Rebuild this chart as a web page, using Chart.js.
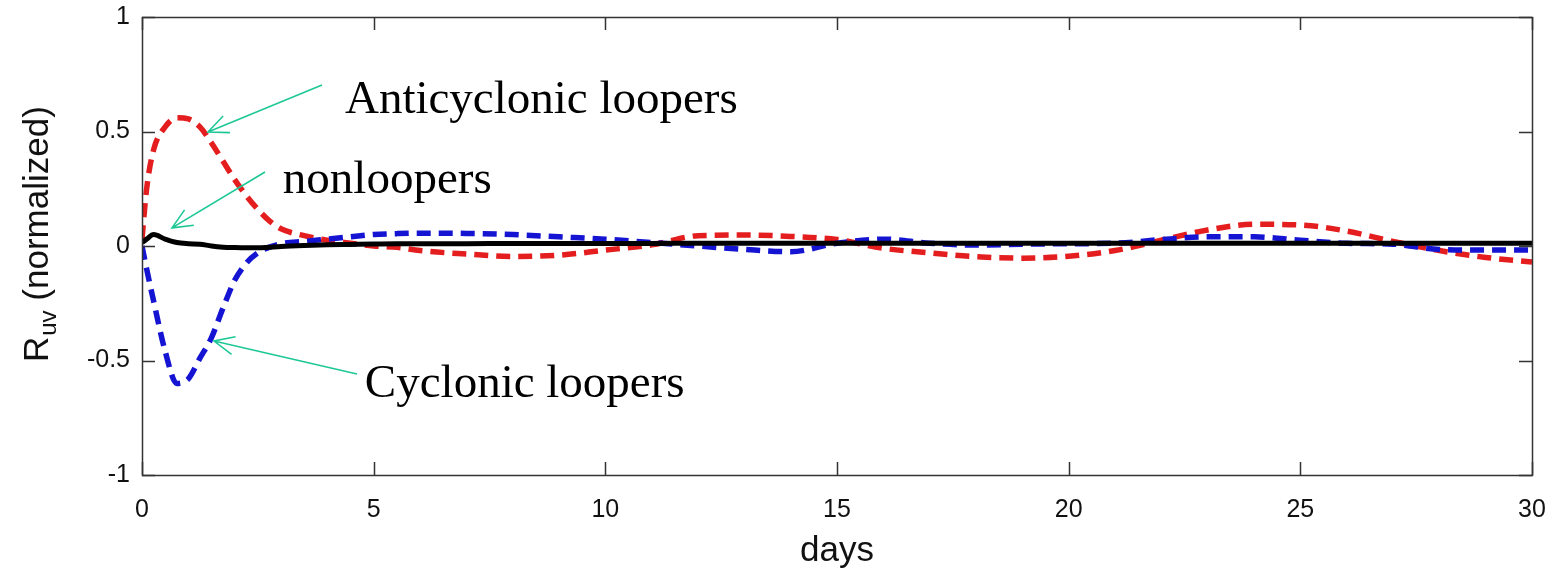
<!DOCTYPE html>
<html>
<head>
<meta charset="utf-8">
<script src="https://cdn.jsdelivr.net/npm/chart.js@4.4.1/dist/chart.umd.min.js"></script>
<style>
  html, body { margin: 0; padding: 0; background: #ffffff; }
  canvas { display: block; }
</style>
</head>
<body>
<canvas id="c" width="1554" height="574"></canvas>
<script>
// ---- data ----
const days = [0, 0.1, 0.25, 0.5, 0.75, 1, 1.25, 1.5, 1.75, 2, 2.25, 2.5, 2.75, 3, 3.5, 4, 4.5, 5, 5.5, 6, 7, 8, 9, 10, 11, 12, 13, 14, 15, 16, 17, 18, 19, 20, 21, 22, 23, 24, 25, 26, 27, 28, 29, 30];
const anticyclonic = [0.03, 0.25, 0.42, 0.52, 0.56, 0.555, 0.52, 0.45, 0.37, 0.29, 0.22, 0.16, 0.11, 0.075, 0.045, 0.025, 0.012, 0.0, -0.006, -0.02, -0.035, -0.046, -0.04, -0.018, 0.005, 0.045, 0.048, 0.042, 0.028, -0.01, -0.03, -0.047, -0.053, -0.045, -0.02, 0.025, 0.07, 0.095, 0.092, 0.065, 0.02, -0.02, -0.05, -0.07];
const cyclonic = [0.0, -0.1, -0.24, -0.46, -0.6, -0.58, -0.49, -0.4, -0.27, -0.15, -0.075, -0.03, -0.005, 0.01, 0.02, 0.03, 0.04, 0.05, 0.054, 0.056, 0.055, 0.05, 0.04, 0.03, 0.015, 0.0, -0.015, -0.025, 0.012, 0.03, 0.012, 0.004, 0.008, 0.01, 0.012, 0.028, 0.04, 0.04, 0.025, 0.012, 0.008, -0.015, -0.018, -0.018];
const nonloopers = [0.015, 0.03, 0.05, 0.03, 0.015, 0.01, 0.008, 0.0, -0.005, -0.007, -0.008, -0.008, -0.005, -0.002, 0.002, 0.005, 0.007, 0.009, 0.01, 0.01, 0.01, 0.011, 0.011, 0.011, 0.011, 0.012, 0.012, 0.012, 0.012, 0.012, 0.012, 0.012, 0.012, 0.012, 0.012, 0.012, 0.012, 0.012, 0.012, 0.012, 0.012, 0.012, 0.012, 0.012];
const xTicks = [0, 5, 10, 15, 20, 25, 30];
const xTickLabels = ['0', '5', '10', '15', '20', '25', '30'];
const yTicks = [-1, -0.5, 0, 0.5, 1];
const yTickLabels = ['-1', '-0.5', '0', '0.5', '1'];
const xTitle = 'days';
const yTitleMain = 'R';
const yTitleSub = 'uv';
const yTitleRest = ' (normalized)';

// annotation texts and arrows (in data units: days, value)
const annotationTexts = [
  { text: 'Anticyclonic loopers', x: 4.38, y: 0.581 },
  { text: 'nonloopers', x: 3.04, y: 0.231 },
  { text: 'Cyclonic loopers', x: 4.81, y: -0.659 }
];
const annotationArrows = [
  { from: [3.885, 0.703], to: [1.424, 0.498] },
  { from: [2.655, 0.323], to: [0.647, 0.079] },
  { from: [4.64, -0.559], to: [1.554, -0.415] }
];

const pts = arr => days.map((d, i) => ({ x: d, y: arr[i] }));

const axisPlugin = {
  id: 'matlabAxes',
  afterDatasetsDraw(chart) {
    const { ctx, chartArea: a, scales: { x, y } } = chart;
    ctx.save();
    ctx.strokeStyle = '#333333';
    ctx.lineWidth = 1.5;
    const tl = 13;
    ctx.beginPath();
    xTicks.forEach(v => {
      const px = Math.round(x.getPixelForValue(v)) + 0.5;
      ctx.moveTo(px, a.bottom); ctx.lineTo(px, a.bottom - tl);
      ctx.moveTo(px, a.top); ctx.lineTo(px, a.top + tl);
    });
    yTicks.forEach(v => {
      const py = Math.round(y.getPixelForValue(v)) + 0.5;
      ctx.moveTo(a.left, py); ctx.lineTo(a.left + tl, py);
      ctx.moveTo(a.right, py); ctx.lineTo(a.right - tl, py);
    });
    ctx.stroke();
    ctx.strokeRect(Math.round(a.left) + 0.5, Math.round(a.top) + 0.5, Math.round(a.right - a.left), Math.round(a.bottom - a.top));
    ctx.restore();
  },
  afterDraw(chart) {
    const { ctx, scales: { x, y } } = chart;
    ctx.save();
    // y-axis title with subscript
    ctx.translate(48, 362);
    ctx.rotate(-Math.PI / 2);
    ctx.fillStyle = '#111111';
    ctx.textBaseline = 'alphabetic';
    ctx.textAlign = 'left';
    ctx.font = '35px "Liberation Sans", Arial, sans-serif';
    ctx.fillText(yTitleMain, 0, 0);
    let w = ctx.measureText(yTitleMain).width;
    ctx.font = '24px "Liberation Sans", Arial, sans-serif';
    ctx.fillText(yTitleSub, w + 1, 8);
    w += ctx.measureText(yTitleSub).width + 1;
    ctx.font = '35px "Liberation Sans", Arial, sans-serif';
    ctx.fillText(yTitleRest, w, 0);
    ctx.restore();

    // annotations
    ctx.save();
    ctx.fillStyle = '#000000';
    ctx.font = '47px "Liberation Serif", "Times New Roman", serif';
    ctx.textBaseline = 'alphabetic';
    ctx.textAlign = 'left';
    annotationTexts.forEach(t => {
      ctx.fillText(t.text, x.getPixelForValue(t.x), y.getPixelForValue(t.y));
    });
    ctx.strokeStyle = '#1ec896';
    ctx.lineWidth = 1.6;
    annotationArrows.forEach(ar => {
      const x1 = x.getPixelForValue(ar.from[0]), y1 = y.getPixelForValue(ar.from[1]);
      const x2 = x.getPixelForValue(ar.to[0]), y2 = y.getPixelForValue(ar.to[1]);
      const ang = Math.atan2(y2 - y1, x2 - x1);
      const hl = 22, ha = 0.42;
      ctx.beginPath();
      ctx.moveTo(x1, y1); ctx.lineTo(x2, y2);
      ctx.moveTo(x2 - hl * Math.cos(ang - ha), y2 - hl * Math.sin(ang - ha));
      ctx.lineTo(x2, y2);
      ctx.lineTo(x2 - hl * Math.cos(ang + ha), y2 - hl * Math.sin(ang + ha));
      ctx.stroke();
    });
    ctx.restore();
  }
};

new Chart(document.getElementById('c'), {
  type: 'line',
  data: {
    datasets: [
      { label: 'nonloopers', data: pts(nonloopers), borderColor: '#000000', borderWidth: 5, pointRadius: 0, cubicInterpolationMode: 'monotone', fill: false },
      { label: 'Cyclonic loopers', data: pts(cyclonic), borderColor: '#1414d2', borderWidth: 5.5, borderDash: [14, 8], pointRadius: 0, cubicInterpolationMode: 'monotone', fill: false },
      { label: 'Anticyclonic loopers', data: pts(anticyclonic), borderColor: '#e41e1e', borderWidth: 5.5, borderDash: [14, 8], pointRadius: 0, cubicInterpolationMode: 'monotone', fill: false }
    ]
  },
  options: {
    responsive: false,
    animation: false,
    devicePixelRatio: 1,
    layout: { padding: { top: 17, right: 22, left: 0, bottom: 0 } },
    plugins: { legend: { display: false }, tooltip: { enabled: false } },
    scales: {
      x: {
        type: 'linear', min: 0, max: 30,
        grid: { display: false, drawTicks: false },
        border: { display: false },
        ticks: {
          stepSize: 5, padding: 20, color: '#111111',
          font: { family: '"Liberation Sans", Arial, sans-serif', size: 25 },
          callback: (v) => { const i = xTicks.indexOf(v); return i >= 0 ? xTickLabels[i] : ''; },
          maxRotation: 0
        },
        title: { display: true, text: xTitle, color: '#111111', font: { family: '"Liberation Sans", Arial, sans-serif', size: 35 }, padding: { top: 0, bottom: 2 } },
        afterFit: (s) => { s.height = 99; s.paddingLeft = 0; s.paddingRight = 0; }
      },
      y: {
        type: 'linear', min: -1, max: 1,
        grid: { display: false, drawTicks: false },
        border: { display: false },
        ticks: {
          stepSize: 0.5, padding: 12, color: '#111111',
          font: { family: '"Liberation Sans", Arial, sans-serif', size: 25 },
          callback: (v) => { const i = yTicks.indexOf(v); return i >= 0 ? yTickLabels[i] : ''; }
        },
        afterFit: (s) => { s.width = 142; s.paddingTop = 0; s.paddingBottom = 0; }
      }
    }
  },
  plugins: [axisPlugin]
});
</script>
</body>
</html>
